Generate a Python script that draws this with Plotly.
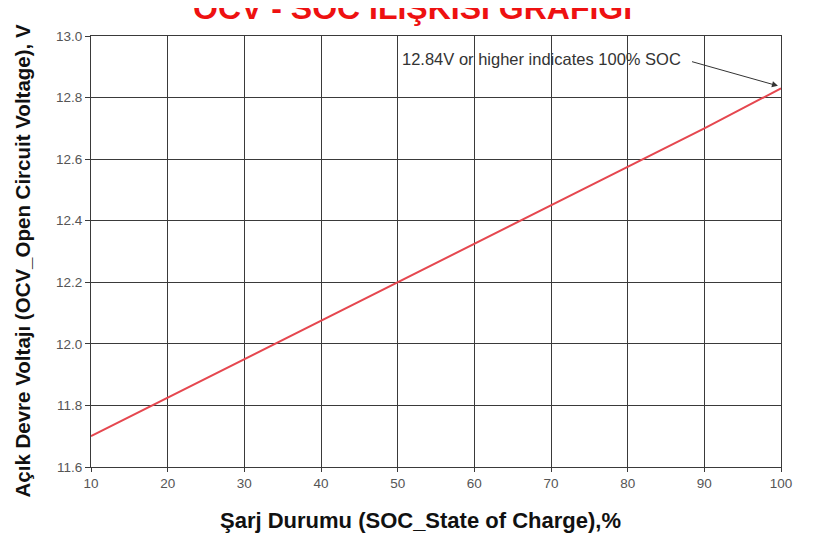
import plotly.graph_objects as go

soc = [10, 20, 30, 40, 50, 60, 70, 80, 90, 100]
ocv = [11.70, 11.825, 11.95, 12.075, 12.20, 12.325, 12.45, 12.575, 12.70, 12.83]
x_ticks = [10, 20, 30, 40, 50, 60, 70, 80, 90, 100]
y_ticks = [11.6, 11.8, 12.0, 12.2, 12.4, 12.6, 12.8, 13.0]
y_tick_labels = ["11.6", "11.8", "12.0", "12.2", "12.4", "12.6", "12.8", "13.0"]

title = "OCV - SOC İLİŞKİSİ GRAFİĞİ"
x_title = "Şarj Durumu (SOC_State of Charge),%"
y_title = "Açık Devre Voltajı (OCV_Open Circuit Voltage), V"
note = "12.84V or higher indicates 100% SOC"

fig = go.Figure()
fig.add_trace(go.Scatter(x=soc, y=ocv, mode="lines",
                         line=dict(color="#e5474f", width=2), showlegend=False))

grid = "#3a3a3a"
tickfont = dict(family="Liberation Sans, Arial", size=13.5, color="#555")
fig.update_xaxes(range=[10, 100], tickvals=x_ticks, showgrid=True, gridcolor=grid, gridwidth=1,
                 showline=True, linecolor=grid, linewidth=1, mirror=True,
                 ticks="outside", ticklen=4, tickcolor=grid, tickfont=tickfont,
                 zeroline=False, fixedrange=True)
fig.update_yaxes(range=[11.6, 13.0], tickvals=y_ticks, ticktext=y_tick_labels, showgrid=True,
                 gridcolor=grid, gridwidth=1,
                 showline=True, linecolor=grid, linewidth=1, mirror=True,
                 ticks="outside", ticklen=5, tickcolor=grid, tickfont=tickfont,
                 zeroline=False, fixedrange=True)

fig.update_layout(
    width=817, height=525,
    margin=dict(l=83, r=44, t=28, b=66),
    paper_bgcolor="white", plot_bgcolor="white",
    annotations=[
        dict(text="<b>" + title + "</b>", xref="paper", yref="paper", x=0.466, y=1.0,
             yshift=8, yanchor="bottom", xanchor="center", showarrow=False,
             font=dict(family="Liberation Sans, Arial", size=32, color="#ee1111")),
        dict(text="<b>" + x_title + "</b>", xref="paper", yref="paper", x=0.477, y=0,
             yshift=-53, yanchor="middle", xanchor="center", showarrow=False,
             font=dict(family="Liberation Sans, Arial", size=22, color="#111")),
        dict(text="<b>" + y_title + "</b>", xref="paper", yref="paper", x=0, y=0.5,
             xshift=-69, yshift=-10, xanchor="center", yanchor="middle", textangle=-90,
             showarrow=False,
             font=dict(family="Liberation Sans, Arial", size=20.5, color="#111")),
        dict(text=note, xref="x", yref="y", x=68.8, y=12.925, xanchor="center", yanchor="middle",
             showarrow=False, font=dict(family="Liberation Sans, Arial", size=16.5, color="#333")),
        dict(text="", xref="x", yref="y", x=99.6, y=12.838, axref="x", ayref="y",
             ax=88.2, ay=12.918, showarrow=True, arrowhead=2, arrowsize=1.2, arrowwidth=1,
             arrowcolor="#333"),
    ],
)

fig.write_html("out.html")
